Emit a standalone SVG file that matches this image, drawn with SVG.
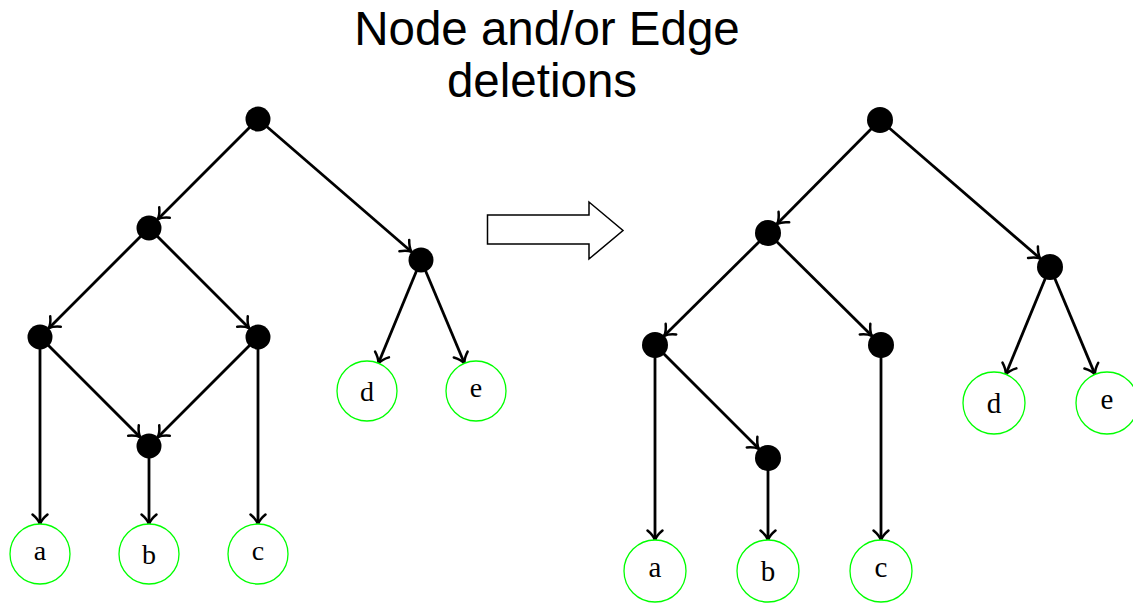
<svg xmlns="http://www.w3.org/2000/svg" width="1133" height="603" viewBox="0 0 1133 603">
  <style>
    .title { font-family: "Liberation Sans", Arial, sans-serif; font-size: 47.5px; fill: #000; text-anchor: middle; }
    .dot { fill: #000; }
    .leaf { fill: #fff; stroke: #00ff00; stroke-width: 1.3; }
    .lbl { font-family: "Liberation Serif", "DejaVu Serif", serif; font-size: 28px; fill: #000; text-anchor: middle; }
    .lbl2 { font-family: "Liberation Serif", "DejaVu Serif", serif; font-size: 29px; fill: #000; text-anchor: middle; }
    .edge { stroke: #000; stroke-width: 2.8; fill: none; marker-end: url(#tip); }
    .bigarrow { fill: #fff; stroke: #000; stroke-width: 1.5; }
  </style>
  <defs>
    <marker id="tip" markerUnits="userSpaceOnUse" viewBox="-14 -10 16 20" refX="0" refY="0" markerWidth="16" markerHeight="20" orient="auto" overflow="visible">
      <path d="M -9.5 -7.5 C -6 -3.2 -2.4 -0.9 0 0 C -2.4 0.9 -6 3.2 -9.5 7.5" fill="none" stroke="#000" stroke-width="2.5" stroke-linecap="round"/>
    </marker>
  </defs>

  <rect width="1133" height="603" fill="#fff"/>

  <!-- heading -->
  <g id="title">
    <text class="title" x="547" y="45">Node and/or Edge</text>
    <text class="title" x="542" y="97">deletions</text>
  </g>

  <!-- transformation arrow between the two graphs -->
  <g id="transform-arrow">
    <polygon class="bigarrow" points="487.5,215 589,215 589,202 623,230.5 589,259 589,244 487.5,244"/>
  </g>

  <!-- edges, drawn under the nodes -->
  <g id="connectors">
    <!-- left graph -->
    <line class="edge" x1="258" y1="119" x2="157.8" y2="219.2"/>
    <line class="edge" x1="258" y1="119" x2="411.5" y2="251.8"/>
    <line class="edge" x1="149" y1="228" x2="48.8" y2="328.2"/>
    <line class="edge" x1="149" y1="228" x2="249.2" y2="328.2"/>
    <line class="edge" x1="40" y1="337" x2="140.2" y2="437.2"/>
    <line class="edge" x1="258" y1="337" x2="157.8" y2="437.2"/>
    <line class="edge" x1="40" y1="337" x2="40" y2="524"/>
    <line class="edge" x1="149" y1="446" x2="149" y2="524"/>
    <line class="edge" x1="258" y1="337" x2="258" y2="524"/>
    <line class="edge" x1="421" y1="260" x2="378.4" y2="363.3"/>
    <line class="edge" x1="421" y1="260" x2="464.4" y2="363.3"/>
    <!-- right graph -->
    <line class="edge" x1="880" y1="120" x2="777.2" y2="223.8"/>
    <line class="edge" x1="880" y1="120" x2="1040.2" y2="258.5"/>
    <line class="edge" x1="768" y1="233" x2="664.2" y2="335.8"/>
    <line class="edge" x1="768" y1="233" x2="871.8" y2="335.8"/>
    <line class="edge" x1="655" y1="345" x2="758.8" y2="448.8"/>
    <line class="edge" x1="655" y1="345" x2="655" y2="540"/>
    <line class="edge" x1="768" y1="458" x2="768" y2="540"/>
    <line class="edge" x1="881" y1="345" x2="881" y2="540"/>
    <line class="edge" x1="1050" y1="267" x2="1005.8" y2="374.3"/>
    <line class="edge" x1="1050" y1="267" x2="1095" y2="374.4"/>
  </g>

  <!-- left graph nodes -->
  <g id="L-root"><circle class="dot" cx="258" cy="119" r="12.5"/></g>
  <g id="L-n1"><circle class="dot" cx="149" cy="228" r="12.5"/></g>
  <g id="L-n2"><circle class="dot" cx="40" cy="337" r="12.5"/></g>
  <g id="L-n3"><circle class="dot" cx="258" cy="337" r="12.5"/></g>
  <g id="L-n4"><circle class="dot" cx="149" cy="446" r="12.5"/></g>
  <g id="L-n5"><circle class="dot" cx="421" cy="260" r="12.5"/></g>
  <g id="L-a"><circle class="leaf" cx="40" cy="554" r="30"/><text class="lbl" x="40" y="560">a</text></g>
  <g id="L-b"><circle class="leaf" cx="149" cy="554" r="30"/><text class="lbl" x="149" y="564">b</text></g>
  <g id="L-c"><circle class="leaf" cx="258" cy="554" r="30"/><text class="lbl" x="258" y="560">c</text></g>
  <g id="L-d"><circle class="leaf" cx="367" cy="391" r="30"/><text class="lbl" x="367" y="401">d</text></g>
  <g id="L-e"><circle class="leaf" cx="476" cy="391" r="30"/><text class="lbl" x="476" y="397">e</text></g>

  <!-- right graph nodes -->
  <g id="R-root"><circle class="dot" cx="880" cy="120" r="13"/></g>
  <g id="R-n1"><circle class="dot" cx="768" cy="233" r="13"/></g>
  <g id="R-n2"><circle class="dot" cx="655" cy="345" r="13"/></g>
  <g id="R-n3"><circle class="dot" cx="881" cy="345" r="13"/></g>
  <g id="R-n4"><circle class="dot" cx="768" cy="458" r="13"/></g>
  <g id="R-n5"><circle class="dot" cx="1050" cy="267" r="13"/></g>
  <g id="R-a"><circle class="leaf" cx="655" cy="571" r="31"/><text class="lbl2" x="655" y="577">a</text></g>
  <g id="R-b"><circle class="leaf" cx="768" cy="571" r="31"/><text class="lbl2" x="768" y="581">b</text></g>
  <g id="R-c"><circle class="leaf" cx="881" cy="571" r="31"/><text class="lbl2" x="881" y="577">c</text></g>
  <g id="R-d"><circle class="leaf" cx="994" cy="403" r="31"/><text class="lbl2" x="994" y="413">d</text></g>
  <g id="R-e"><circle class="leaf" cx="1107" cy="403" r="31"/><text class="lbl2" x="1107" y="409">e</text></g>
</svg>
